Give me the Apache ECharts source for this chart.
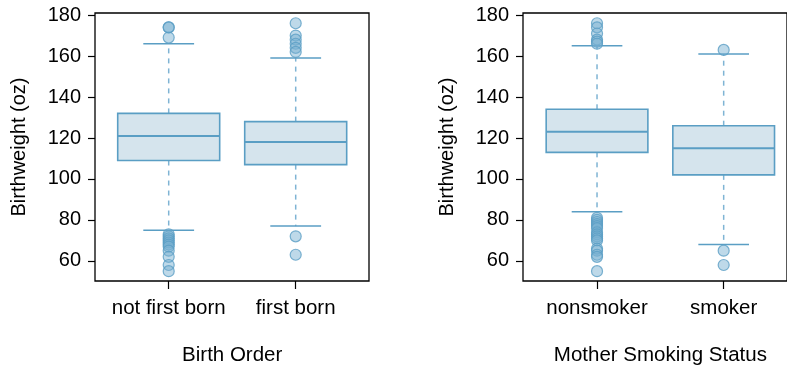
<!DOCTYPE html>
<html>
<head>
<meta charset="utf-8">
<script src="https://cdn.jsdelivr.net/npm/echarts@6/dist/echarts.min.js"></script>
<style>
html,body{margin:0;padding:0;background:#fff;}
#chart{width:787px;height:371px;}
</style>
</head>
<body>
<div id="chart"></div>
<script>
// ---- data ----
const yTicks = [60, 80, 100, 120, 140, 160, 180];

const orderCats = ['not first born', 'first born'];
// [lower whisker, Q1, median, Q3, upper whisker]
const orderBoxes = [
  [75, 109, 121, 132, 166],
  [77, 107, 118, 128, 159]
];
const orderOutliers = [
  [174, 174, 169, 73, 72, 71, 70, 69, 68, 67, 65, 62, 58, 55],
  [176, 170, 168, 166, 164, 162, 72, 63]
];

const smokeCats = ['nonsmoker', 'smoker'];
const smokeBoxes = [
  [84, 113, 123, 134, 165],
  [68, 102, 115, 126, 161]
];
const smokeOutliers = [
  [176, 174, 171, 168, 167, 166, 81, 80, 79, 78, 77, 76, 74, 73, 72, 71, 70, 66, 65, 63, 62, 55],
  [163, 65, 58]
];

// ---- styles ----
const LINE = '#5a9ec4';
const FILL = '#d5e4ed';
const FONT = 'Liberation Sans, Arial, Helvetica, sans-serif';
const FS = 20;
const YMIN = 50.2, YMAX = 181;

function boxData(boxes) {
  return boxes.map((b, i) => [i].concat(b));
}
function outlierData(outs) {
  const arr = [];
  outs.forEach((list, i) => list.forEach(v => arr.push([i, v])));
  return arr;
}

function renderBox(params, api) {
  const idx = api.value(0);
  const lo = api.value(1), q1 = api.value(2), med = api.value(3), q3 = api.value(4), hi = api.value(5);
  const band = api.size([1, 0])[0];
  const bw = band * 0.803;
  const cw = band * 0.40;
  const pLo = api.coord([idx, lo]);
  const pQ1 = api.coord([idx, q1]);
  const pMed = api.coord([idx, med]);
  const pQ3 = api.coord([idx, q3]);
  const pHi = api.coord([idx, hi]);
  const x = pMed[0];
  const dash = { stroke: '#7fb4d4', lineWidth: 1.5, lineDash: [5, 5] };
  const solid = { stroke: LINE, lineWidth: 1.5 };
  return {
    type: 'group',
    children: [
      { type: 'line', shape: { x1: x, y1: pQ3[1], x2: x, y2: pHi[1] }, style: dash },
      { type: 'line', shape: { x1: x, y1: pQ1[1], x2: x, y2: pLo[1] }, style: dash },
      { type: 'line', shape: { x1: x - cw / 2, y1: pHi[1], x2: x + cw / 2, y2: pHi[1] }, style: solid },
      { type: 'line', shape: { x1: x - cw / 2, y1: pLo[1], x2: x + cw / 2, y2: pLo[1] }, style: solid },
      { type: 'rect', shape: { x: x - bw / 2, y: pQ3[1], width: bw, height: pQ1[1] - pQ3[1] },
        style: { fill: FILL, stroke: LINE, lineWidth: 1.6 } },
      { type: 'line', shape: { x1: x - bw / 2, y1: pMed[1], x2: x + bw / 2, y2: pMed[1] },
        style: { stroke: LINE, lineWidth: 2 } }
    ]
  };
}

const frameGrid = (left) => ({ left: left, top: 13, width: 274, height: 268, show: true,
  borderColor: '#000', borderWidth: 1.3, backgroundColor: 'transparent', containLabel: false });
const dataGrid = (left) => ({ left: left, top: 13, width: 254, height: 268, containLabel: false });

function frameY(gi) {
  return {
    type: 'value', gridIndex: gi, min: YMIN, max: YMAX,
    axisLine: { show: false },
    axisTick: { show: true, length: 7, inside: false, customValues: yTicks, lineStyle: { color: '#000', width: 1.2 } },
    axisLabel: { show: true, customValues: yTicks, margin: 14, color: '#000', fontSize: FS, fontFamily: FONT },
    splitLine: { show: false },
    name: 'Birthweight (oz)', nameLocation: 'middle', nameGap: 66, nameRotate: 90,
    nameTextStyle: { color: '#000', fontSize: FS, fontFamily: FONT }
  };
}
function hiddenY(gi) {
  return { type: 'value', gridIndex: gi, min: YMIN, max: YMAX, show: false, splitLine: { show: false } };
}
function catX(gi, cats, name) {
  return {
    type: 'category', gridIndex: gi, data: cats, boundaryGap: true,
    axisLine: { show: false },
    axisTick: { show: true, alignWithLabel: true, interval: 0, length: 8, lineStyle: { color: '#000', width: 1.2 } },
    axisLabel: { interval: 0, hideOverlap: false, margin: 17, color: '#000', fontSize: FS + 0.5, fontFamily: FONT },
    splitLine: { show: false },
    name: name, nameLocation: 'middle', nameGap: 64,
    nameTextStyle: { color: '#000', fontSize: FS + 0.5, fontFamily: FONT }
  };
}
function hiddenX(gi) {
  return { type: 'value', gridIndex: gi, show: false, min: 0, max: 1, splitLine: { show: false } };
}

const outlierStyle = { color: 'rgba(120,176,210,0.6)', borderColor: LINE, borderWidth: 1.2 };

const option = {
  animation: false,
  backgroundColor: '#fff',
  grid: [frameGrid(95), dataGrid(105.2), frameGrid(523), dataGrid(533.7)],
  xAxis: [hiddenX(0), catX(1, orderCats, 'Birth Order'), hiddenX(2), catX(3, smokeCats, 'Mother Smoking Status')],
  yAxis: [frameY(0), hiddenY(1), frameY(2), hiddenY(3)],
  series: [
    { type: 'custom', xAxisIndex: 1, yAxisIndex: 1, renderItem: renderBox,
      encode: { x: 0, y: [1, 2, 3, 4, 5] }, data: boxData(orderBoxes), z: 2 },
    { type: 'scatter', xAxisIndex: 1, yAxisIndex: 1, symbol: 'circle', symbolSize: 11,
      itemStyle: outlierStyle, data: outlierData(orderOutliers), z: 3 },
    { type: 'custom', xAxisIndex: 3, yAxisIndex: 3, renderItem: renderBox,
      encode: { x: 0, y: [1, 2, 3, 4, 5] }, data: boxData(smokeBoxes), z: 2 },
    { type: 'scatter', xAxisIndex: 3, yAxisIndex: 3, symbol: 'circle', symbolSize: 11,
      itemStyle: outlierStyle, data: outlierData(smokeOutliers), z: 3 }
  ]
};

const chart = echarts.init(document.getElementById('chart'), null, { renderer: 'canvas' });
chart.setOption(option);
</script>
</body>
</html>
